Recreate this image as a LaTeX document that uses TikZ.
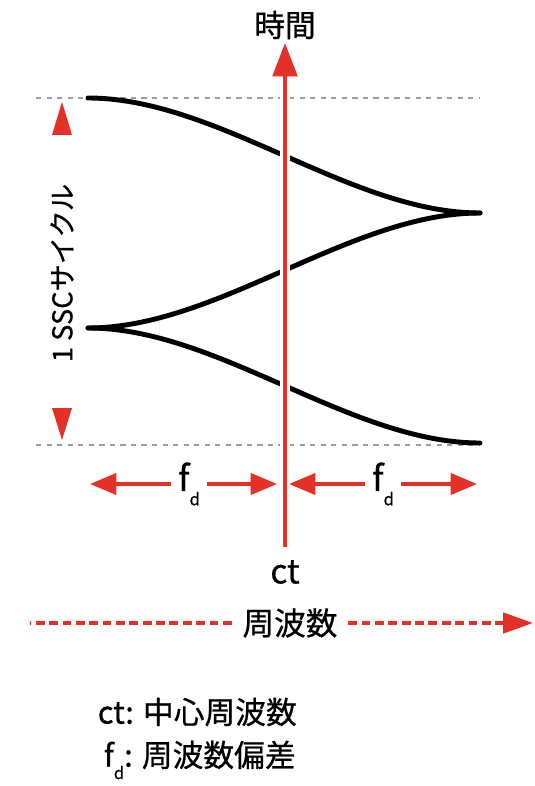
\documentclass[tikz,border=0pt]{standalone}
\usepackage{fontspec}
\setmainfont{Noto Sans CJK JP}[FakeBold=0.7]
\usetikzlibrary{arrows.meta,positioning}
\definecolor{sscred}{RGB}{228,48,38}
\definecolor{guidegray}{RGB}{150,158,168}
\newcommand{\fdsub}{f\raisebox{-0.75ex}{\fontsize{9.5}{9.5}\selectfont d}}

\begin{document}
\begin{tikzpicture}[x=0.02cm, y=-0.02cm,
    lbl/.style={font=\fontsize{17.5}{20}\selectfont, inner sep=2pt},
    fdlbl/.style={font=\fontsize{20}{22}\selectfont, inner sep=4pt},
    guideline/.style={guidegray, dash pattern=on 3pt off 3pt, line width=1.1pt},
    wave/.style={line width=2.8pt, line cap=round},
    redarr/.style={sscred, line width=2.2pt, -{Triangle[length=15pt,width=12pt]}},
    freqline/.style={sscred, line width=2.3pt, dash pattern=on 5pt off 2.6pt}
]
\useasboundingbox (0,0) rectangle (534,786);

\coordinate (startTop) at (88,98);
\coordinate (cuspR) at (480,213);
\coordinate (cuspL) at (88,328);
\coordinate (endBot) at (480,443);

\draw[guideline] (36,98) -- (480,98);
\draw[guideline] (36,445) -- (480,445);

\draw[wave] (startTop) .. controls (218,98) and (350,213) .. (cuspR);
\draw[wave] (cuspL) .. controls (218,328) and (350,213) .. (cuspR);
\draw[wave] (cuspL) .. controls (218,328) and (350,443) .. (endBot);

\node[lbl] (time) at (285,25) {時間};
\node[lbl, font=\fontsize{19}{20}\selectfont] (ct) at (285,572) {ct};
\coordinate (axisBot) at (285,547);
\draw[white, line width=5.5pt] (axisBot) -- ([yshift=-4pt]time.south);
\draw[redarr, -{Triangle[length=19pt,width=14pt]}] (axisBot) -- (time.south);

\fill[sscred] (52,135) -- (62,102) -- (72,135) -- cycle;
\fill[sscred] (52,408) -- (62,440) -- (72,408) -- cycle;
\node[lbl, font=\fontsize{15.5}{18}\selectfont, rotate=90] (cycle) at (62,273) {1 SSCサイクル};

\coordinate (tipLL) at (90,480);
\coordinate (tipLR) at (277,480);
\coordinate (tipRL) at (289,480);
\coordinate (tipRR) at (477,480);
\node[fdlbl] (fdL) at (189,484) {\fdsub};
\node[fdlbl] (fdR) at (383,484) {\fdsub};
\draw[redarr] (fdL.west) -- (fdL.west -| tipLL);
\draw[redarr] (fdL.east) -- (fdL.east -| tipLR);
\draw[redarr] (fdR.west) -- (fdR.west -| tipRL);
\draw[redarr] (fdR.east) -- (fdR.east -| tipRR);

\node[lbl, font=\fontsize{18}{20}\selectfont, inner sep=6pt] (freq) at (290,623) {周波数};
\coordinate (freqL) at (30,623);
\coordinate (freqR) at (533,623);
\draw[freqline] (freq.west) -- (freqL);
\draw[freqline, -{Triangle[length=17pt,width=11.5pt]}] (freq.east) -- (freqR);

\node[lbl, anchor=west] (legct) at (94,712) {ct: 中心周波数};
\node[lbl, anchor=west] (legfd) at (100,760) {\fdsub: 周波数偏差};
\end{tikzpicture}
\end{document}
